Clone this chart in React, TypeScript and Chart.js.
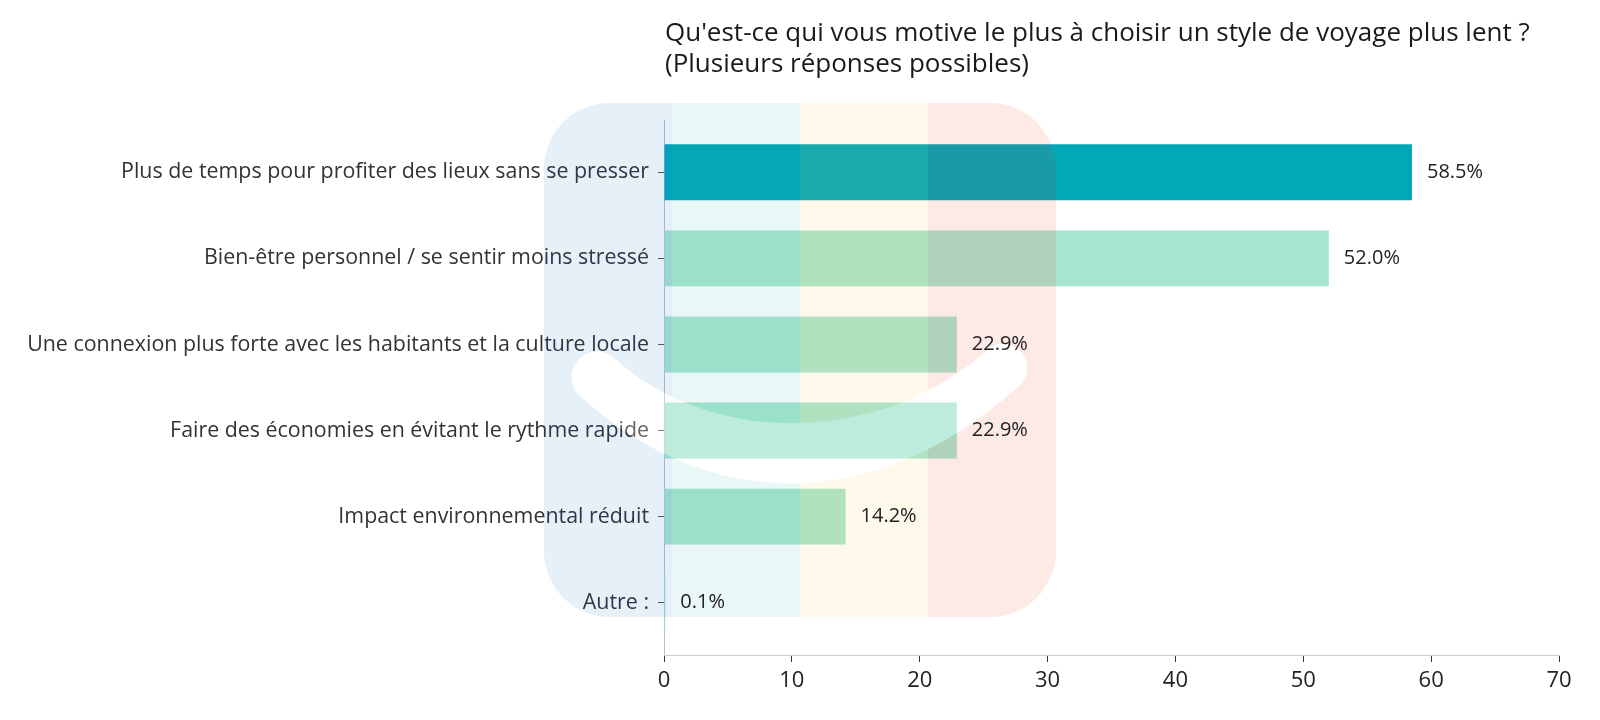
import React, { useEffect, useRef } from "react";
import { Chart, registerables } from "chart.js";

Chart.register(...registerables);

const titleLines = [
  "Qu'est-ce qui vous motive le plus à choisir un style de voyage plus lent ?",
  "(Plusieurs réponses possibles)",
];
const categories = [
  "Plus de temps pour profiter des lieux sans se presser",
  "Bien-être personnel / se sentir moins stressé",
  "Une connexion plus forte avec les habitants et la culture locale",
  "Faire des économies en évitant le rythme rapide",
  "Impact environnemental réduit",
  "Autre :",
];
const values = [58.5, 52.0, 22.9, 22.9, 14.2, 0.1];
const barColors = ["#00A8B8", "#A8E6D0", "#A8E6D0", "#A8E6D0", "#A8E6D0", "#A8E6D0"];
const xTicks = [0, 10, 20, 30, 40, 50, 60, 70];

const FONT = "'Open Sans', 'Noto Sans', sans-serif";

function capArc(ctx: CanvasRenderingContext2D, from: number[], to: number[]) {
  const mx = (from[0] + to[0]) / 2, my = (from[1] + to[1]) / 2;
  const r = Math.hypot(from[0] - to[0], from[1] - to[1]) / 2;
  const a0 = Math.atan2(from[1] - my, from[0] - mx);
  ctx.arc(mx, my, r, a0, a0 - Math.PI, true);
}

function smilePath(ctx: CanvasRenderingContext2D) {
  const lo = [580, 396], o1 = [716, 519], o2 = [883, 509], ro = [1019, 386];
  const li = [614, 358], i1 = [715, 450], i2 = [886, 442], ri = [987, 350];
  ctx.beginPath();
  ctx.moveTo(lo[0], lo[1]);
  ctx.bezierCurveTo(o1[0], o1[1], o2[0], o2[1], ro[0], ro[1]);
  capArc(ctx, ro, ri);
  ctx.bezierCurveTo(i2[0], i2[1], i1[0], i1[1], li[0], li[1]);
  capArc(ctx, li, lo);
  ctx.closePath();
}

const watermarkPlugin = {
  id: "watermark",
  afterDatasetsDraw(chart: any) {
    const ctx: CanvasRenderingContext2D = chart.ctx;
    const canvas: HTMLCanvasElement = chart.canvas;
    const x0 = 544, y0 = 103, w = 512, h = 514, r = 66;
    const stripes = ["#0069C3", "#2DAFA5", "#F5C341", "#EB2D0F"];
    const off = document.createElement("canvas");
    off.width = canvas.width;
    off.height = canvas.height;
    const o = off.getContext("2d") as CanvasRenderingContext2D;
    o.setTransform(ctx.getTransform());
    o.save();
    o.beginPath();
    (o as any).roundRect(x0, y0, w, h, r);
    o.clip();
    stripes.forEach((c, i) => {
      o.fillStyle = c;
      o.fillRect(x0 + (i * w) / 4, y0, w / 4 + (i < 3 ? 0.5 : 0), h);
    });
    o.restore();
    o.globalCompositeOperation = "destination-out";
    o.fillStyle = "#000";
    smilePath(o);
    o.fill();

    ctx.save();
    ctx.setTransform(1, 0, 0, 1, 0, 0);
    ctx.globalAlpha = 0.1;
    ctx.drawImage(off, 0, 0);
    ctx.restore();

    ctx.save();
    ctx.fillStyle = "rgba(255,255,255,0.26)";
    smilePath(ctx);
    ctx.fill();
    ctx.restore();
  },
};

const labelsPlugin = {
  id: "valueLabels",
  afterDraw(chart: any) {
    const ctx: CanvasRenderingContext2D = chart.ctx;
    const meta = chart.getDatasetMeta(0);
    ctx.save();
    ctx.font = `20px ${FONT}`;
    ctx.fillStyle = "#222";
    ctx.textAlign = "left";
    ctx.textBaseline = "middle";
    meta.data.forEach((bar: any, i: number) => {
      ctx.fillText(values[i].toFixed(1) + "%", bar.x + 15, bar.y);
    });
    ctx.font = `26px ${FONT}`;
    ctx.fillStyle = "#1a1a1a";
    const left = chart.chartArea.left + 1;
    titleLines.forEach((t, i) => ctx.fillText(t, left, 34 + i * 31));
    ctx.restore();
  },
};

export default function App() {
  const ref = useRef<HTMLCanvasElement | null>(null);
  useEffect(() => {
    document.body.style.margin = "0";
    if (!ref.current) return;
    const chart = new Chart(ref.current, {
      type: "bar",
      data: {
        datasets: [
          {
            data: values.map((v, i) => ({ x: v, y: i })),
            backgroundColor: barColors,
            borderWidth: 0,
            barPercentage: 0.65,
            categoryPercentage: 1,
          },
        ],
      },
      options: {
        indexAxis: "y",
        animation: false,
        responsive: true,
        maintainAspectRatio: false,
        layout: { padding: { top: 120, right: 41, left: 0, bottom: 0 } },
        plugins: { legend: { display: false }, tooltip: { enabled: false }, title: { display: false } },
        scales: {
          y: {
            type: "linear",
            reverse: true,
            offset: false,
            min: -0.6075,
            max: 5.6075,
            afterBuildTicks: (s: any) => {
              s.ticks = categories.map((_, i) => ({ value: i }));
            },
            afterFit: (s: any) => {
              s.width = 664;
            },
            ticks: {
              callback: (v: any) => categories[v as number],
              font: { family: FONT, size: 21.4 },
              color: "#333",
              padding: 9,
              autoSkip: false,
            },
            grid: { offset: false, drawOnChartArea: false, drawTicks: true, tickLength: 6, color: "#555" },
            border: { display: true, color: "#B8BFCC", width: 1 },
          },
          x: {
            type: "linear",
            min: 0,
            max: 70,
            afterBuildTicks: (s: any) => {
              s.ticks = xTicks.map((v) => ({ value: v }));
            },
            afterFit: (s: any) => {
              s.height = 65;
            },
            ticks: { font: { family: FONT, size: 22 }, color: "#222", padding: 6 },
            grid: { offset: false, drawOnChartArea: false, drawTicks: true, tickLength: 7, color: "#333" },
            border: { display: true, color: "#CCCCCC", width: 1 },
          },
        },
      },
      plugins: [watermarkPlugin, labelsPlugin],
    } as any);
    return () => chart.destroy();
  }, []);
  return (
    <div style={{ width: 1600, height: 720, position: "relative" }}>
      <canvas ref={ref} />
    </div>
  );
}
